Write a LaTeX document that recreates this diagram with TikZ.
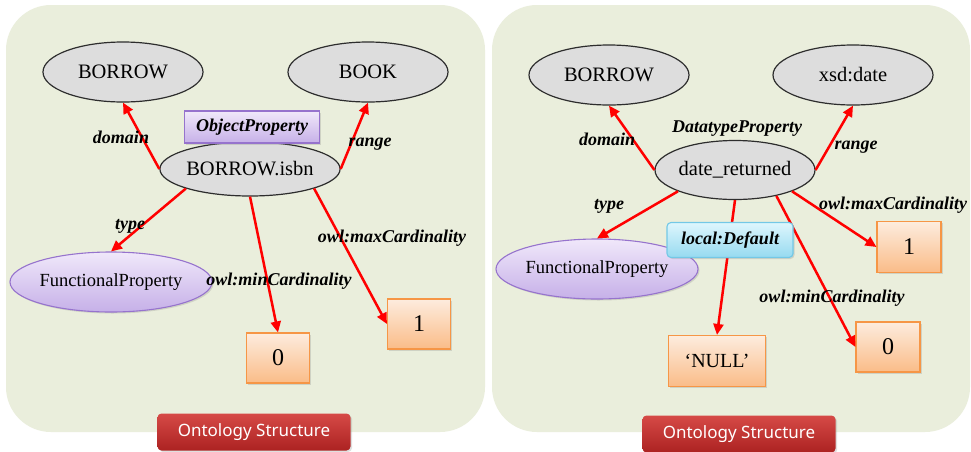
\documentclass[tikz,border=0pt]{standalone}
\usepackage{fontspec}
\setmainfont{Liberation Serif}
\newfontfamily\btnfont{Noto Sans}
\usetikzlibrary{shapes.geometric,arrows.meta,shadows}

\definecolor{panelbg}{RGB}{234,238,220}
\definecolor{ellfill}{RGB}{221,221,221}
\definecolor{ellline}{RGB}{45,45,45}
\definecolor{purtop}{RGB}{240,232,250}
\definecolor{purbot}{RGB}{198,176,232}
\definecolor{purline}{RGB}{150,115,205}
\definecolor{ortop}{RGB}{253,236,222}
\definecolor{orbot}{RGB}{250,188,136}
\definecolor{orline}{RGB}{246,150,70}
\definecolor{bltop}{RGB}{222,246,253}
\definecolor{blbot}{RGB}{150,218,240}
\definecolor{blline}{RGB}{115,200,230}
\definecolor{btntop}{RGB}{214,74,70}
\definecolor{btnbot}{RGB}{172,34,34}
\definecolor{relred}{RGB}{255,0,0}

\tikzset{
  softshadow/.style={drop shadow={opacity=0.25,shadow xshift=1.5pt,shadow yshift=-1.5pt}},
  cls/.style={ellipse,draw=ellline,line width=1.2pt,fill=ellfill,
    minimum width=160pt,minimum height=60pt,inner sep=0pt,
    font=\fontsize{20.5}{22}\selectfont},
  prop/.style={cls,minimum height=56pt},
  fprop/.style={ellipse,draw=purline,line width=1.1pt,top color=purtop,bottom color=purbot,
    minimum width=160pt,minimum height=60pt,inner sep=0pt,softshadow,
    font=\fontsize{18.5}{20}\selectfont},
  valbox/.style={rectangle,draw=orline,line width=1.1pt,top color=ortop,bottom color=orbot,
    minimum width=63pt,minimum height=50pt,inner sep=0pt,softshadow,
    font=\fontsize{24}{26}\selectfont},
  tagbox/.style={rectangle,draw=purline,line width=1.1pt,top color=purtop,bottom color=purbot,
    minimum width=135pt,minimum height=32pt,inner sep=0pt,softshadow,
    font=\fontsize{18}{20}\selectfont\bfseries\itshape},
  defbox/.style={rectangle,rounded corners=4pt,draw=blline,line width=1.1pt,top color=bltop,bottom color=blbot,
    minimum width=126pt,minimum height=35pt,inner sep=0pt,softshadow,
    font=\fontsize{18}{20}\selectfont\bfseries\itshape},
  rlabel/.style={inner sep=0pt,font=\fontsize{18}{20}\selectfont\bfseries\itshape},
  button/.style={rectangle,rounded corners=4pt,top color=btntop,bottom color=btnbot,
    minimum width=193pt,minimum height=37pt,inner sep=0pt,text=white,softshadow,
    font=\btnfont\fontsize{17}{19}\selectfont},
  rel/.style={draw=relred,line width=2.5pt,-{Triangle[length=11pt,width=10pt]}},
  panel/.style={fill=panelbg,rounded corners=45pt}
}

\begin{document}
\begin{tikzpicture}[x=1pt,y=-1pt]
\useasboundingbox (0,0) rectangle (971,451);
\fill[white] (0,0) rectangle (971,451);

% two background panels
\fill[panel] (6,5) rectangle (485,432);
\fill[panel] (492,5) rectangle (970,432);

% ---------- object property ----------
\node[cls] (borrowA) at (123,72) {BORROW};
\node[cls] (book) at (368,72) {BOOK};
\node[prop,minimum width=159pt,minimum height=54pt] (isbn) at (250,169) {BORROW.isbn};
\node[fprop] (funcA) at (111,282) {FunctionalProperty};
\node[valbox] (zeroA) at (278,358) {0};
\node[valbox] (oneA) at (419,324) {1};

\draw[rel] (isbn.west) -- (borrowA.south);
\draw[rel] (isbn.east) -- (book.south);
\draw[rel] (isbn.south west) -- (funcA.north);
\draw[rel] (isbn.south) -- (zeroA.north);
\draw[rel] (isbn.south east) -- (oneA.west);

\node[tagbox] (objprop) at (252,127) {ObjectProperty};
\node[rlabel] (domA) at (121,137) {domain};
\node[rlabel] (rngA) at (370,144) {range};
\node[rlabel] (typA) at (130,226) {type};
\node[rlabel] (minA) at (279,281) {owl:minCardinality};
\node[rlabel] (maxA) at (392,238) {owl:maxCardinality};

\node[button] (btnA) at (254,432) {Ontology Structure};

% ---------- datatype property ----------
\node[cls] (borrowB) at (609,75) {BORROW};
\node[cls] (xsd) at (853,75) {xsd:date};
\node[prop,minimum height=59pt] (dret) at (735,170) {date\_returned};
\node[fprop] (funcB) at (597,269) {FunctionalProperty};
\node[valbox,minimum width=97pt,minimum height=51pt,font=\fontsize{20}{22}\selectfont] (null) at (717,361) {‘NULL’};
\node[valbox,minimum width=64pt,minimum height=51pt] (oneB) at (909,247) {1};
\node[valbox,minimum width=64pt,minimum height=50pt] (zeroB) at (888,347) {0};

\draw[rel] (dret.west) -- (borrowB.south);
\draw[rel] (dret.east) -- (xsd.south);
\draw[rel] (dret.south west) -- (funcB.north);
\draw[rel] (dret.south) -- (null.north);
\draw[rel] (dret.south east) -- (oneB.west);
\draw[rel] (dret.-32) -- (zeroB.west);

\node[defbox] (default) at (730,240) {local:Default};
\node[rlabel] (dtprop) at (737,129) {DatatypeProperty};
\node[rlabel] (domB) at (607,139) {domain};
\node[rlabel] (rngB) at (856,147) {range};
\node[rlabel] (typB) at (609,206) {type};
\node[rlabel] (maxB) at (893,205) {owl:maxCardinality};
\node[rlabel] (minB) at (832,298) {owl:minCardinality};

\node[button] (btnB) at (739,434) {Ontology Structure};
\end{tikzpicture}
\end{document}
